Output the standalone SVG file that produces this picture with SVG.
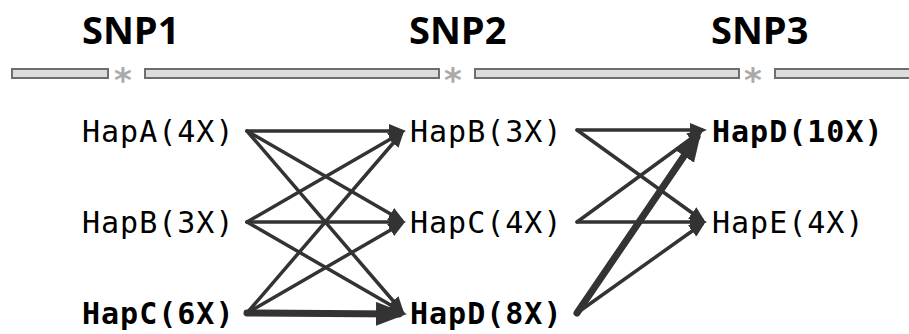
<svg xmlns="http://www.w3.org/2000/svg" width="909" height="334" viewBox="0 0 909 334">
<defs>
<style>
.hdr{font-family:"Open Sans","Noto Sans",sans-serif;font-weight:700;font-size:38px;fill:#000}
.hap{font-family:"DejaVu Sans Mono","Liberation Mono",monospace;font-size:30px;letter-spacing:1px;fill:#000}
.b{font-weight:700}
.trk{fill:#dcdcdc;stroke:#6e6e6e;stroke-width:2}
.ast{font-family:"DejaVu Sans",sans-serif;font-weight:700;font-size:34px;fill:#aaaaaa}
.e{stroke:#333;stroke-width:3.5;stroke-linecap:round;fill:none;marker-end:url(#ah)}
.t{stroke:#333;stroke-width:7;stroke-linecap:round;fill:none;marker-end:url(#ahT)}
</style>
<marker id="ah" markerUnits="userSpaceOnUse" markerWidth="18" markerHeight="14" refX="12" refY="7" orient="auto"><path d="M0,0 L17,7 L0,14 z" fill="#333"/></marker>
<marker id="ahT" markerUnits="userSpaceOnUse" markerWidth="32" markerHeight="24" refX="23" refY="12" orient="auto"><path d="M0,0 L31,12 L0,24 z" fill="#333"/></marker>
</defs>
<g id="track">
<rect class="trk" x="12" y="69" width="96" height="9"/>
<rect class="trk" x="145" y="69" width="294" height="9"/>
<rect class="trk" x="475" y="69" width="264" height="9"/>
<rect class="trk" x="775" y="69" width="140" height="9"/>
<text class="ast" x="123" y="92" text-anchor="middle">*</text>
<text class="ast" x="453" y="92" text-anchor="middle">*</text>
<text class="ast" x="753" y="92" text-anchor="middle">*</text>
</g>
<g id="headers">
<text class="hdr" x="82" y="44">SNP1</text>
<text class="hdr" x="409" y="44">SNP2</text>
<text class="hdr" x="711" y="44">SNP3</text>
</g>
<g id="connectors">
<line class="e" x1="247" y1="131" x2="401" y2="131"/>
<line class="e" x1="247" y1="131" x2="401" y2="220"/>
<line class="e" x1="247" y1="131" x2="401" y2="310"/>
<line class="e" x1="247" y1="222" x2="401" y2="133"/>
<line class="e" x1="247" y1="222" x2="401" y2="222"/>
<line class="e" x1="247" y1="222" x2="401" y2="311"/>
<line class="e" x1="247" y1="313" x2="401" y2="134"/>
<line class="e" x1="247" y1="313" x2="401" y2="224"/>
<line class="t" x1="247" y1="313" x2="399" y2="314"/>
<line class="e" x1="577" y1="130" x2="702" y2="130"/>
<line class="e" x1="577" y1="130" x2="702" y2="220"/>
<line class="e" x1="577" y1="222" x2="700" y2="132"/>
<line class="e" x1="577" y1="222" x2="702" y2="222"/>
<line class="t" x1="577" y1="313" x2="697" y2="137"/>
<line class="e" x1="577" y1="313" x2="702" y2="224"/>
</g>
<g id="n1a"><text class="hap" x="82" y="142">HapA(4X)</text></g>
<g id="n1b"><text class="hap" x="82" y="233">HapB(3X)</text></g>
<g id="n1c"><text class="hap b" x="82" y="324">HapC(6X)</text></g>
<g id="n2b"><text class="hap" x="410" y="142">HapB(3X)</text></g>
<g id="n2c"><text class="hap" x="410" y="233">HapC(4X)</text></g>
<g id="n2d"><text class="hap b" x="410" y="324">HapD(8X)</text></g>
<g id="n3d"><text class="hap b" x="712" y="142">HapD(10X)</text></g>
<g id="n3e"><text class="hap" x="712" y="233">HapE(4X)</text></g>
</svg>
